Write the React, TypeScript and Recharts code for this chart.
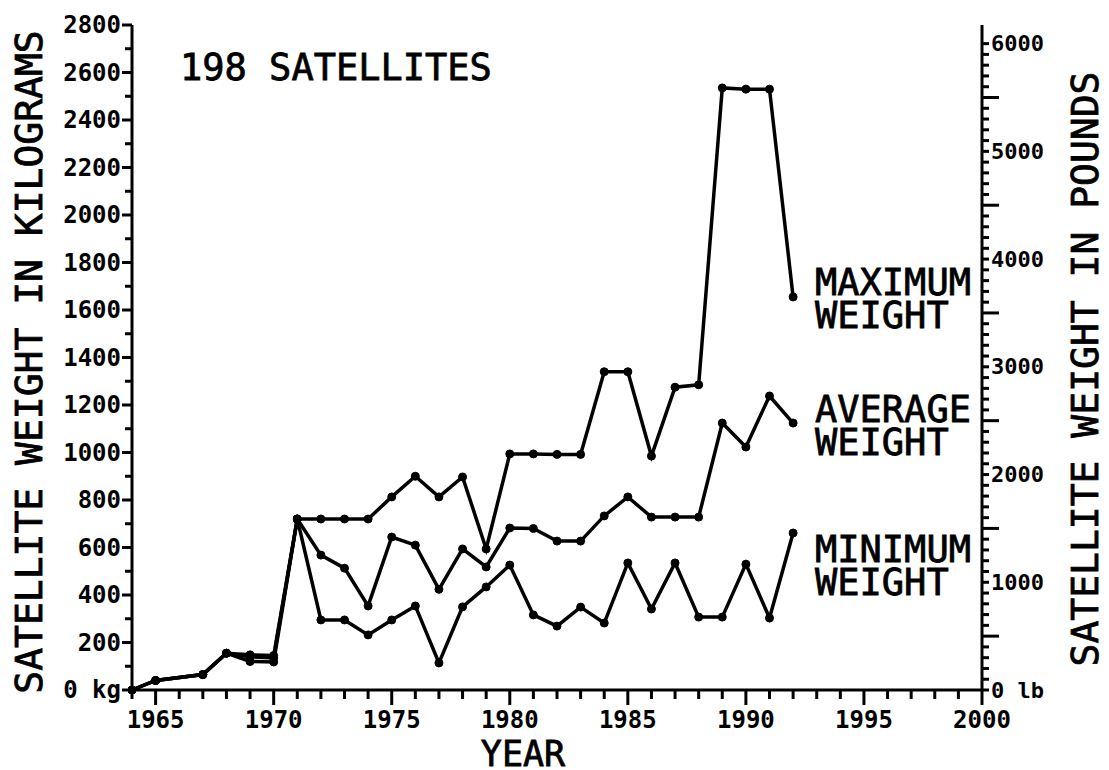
import { Line, LineChart, XAxis, YAxis } from "recharts";

const FONT = '"DejaVu Sans Mono", monospace';
const KG_TO_LB = 2.20462;

const YEARS = [
  1964, 1965, 1967, 1968, 1969, 1970, 1971, 1972, 1973, 1974, 1975, 1976, 1977, 1978,
  1979, 1980, 1981, 1982, 1983, 1984, 1985, 1986, 1987, 1988, 1989, 1990, 1991, 1992,
];
const MAX_WEIGHT = [
  0, 40, 65, 155, 148, 145, 720, 720, 720, 720, 813, 900, 813, 897,
  594, 994, 994, 992, 992, 1340, 1340, 985, 1275, 1285, 2535, 2530, 2530, 1655,
];
const AVG_WEIGHT = [
  0, 40, 65, 155, 140, 135, 720, 568, 513, 354, 644, 610, 424, 594,
  518, 682, 680, 627, 627, 733, 813, 728, 728, 728, 1124, 1023, 1238, 1124,
];
const MIN_WEIGHT = [
  0, 40, 65, 155, 120, 118, 720, 295, 295, 232, 295, 354, 114, 350,
  434, 526, 316, 269, 349, 282, 535, 341, 535, 307, 307, 530, 303, 661,
];

const YEAR_TICKS = Array.from({ length: 37 }, (_, i) => 1964 + i);
const KG_TICKS = Array.from({ length: 29 }, (_, i) => i * 100);
const LB_TICKS = Array.from({ length: 61 }, (_, i) => i * 100);

const rows = YEARS.map((year, i) => ({
  year,
  max: MAX_WEIGHT[i],
  avg: AVG_WEIGHT[i],
  min: MIN_WEIGHT[i],
}));

const tickText = { fontFamily: FONT, fontSize: 24, fontWeight: 700, fill: "#000" };
const labelText = { fontFamily: FONT, fontSize: 37, fill: "#000", stroke: "#000", strokeWidth: 0.8 };

function YearTick({ x, y, payload }: any) {
  const v = payload.value;
  const major = v % 5 === 0 && v !== 1964;
  return (
    <g>
      <line x1={x} x2={x} y1={y} y2={y + (major ? 15 : 9)} stroke="#000" strokeWidth={3} />
      {major && (
        <text x={x} y={y + 30} textAnchor="middle" dominantBaseline="central" {...tickText}>
          {v}
        </text>
      )}
    </g>
  );
}

function KgTick({ x, y, payload }: any) {
  const v = payload.value;
  const major = v % 200 === 0;
  return (
    <g>
      <line x1={x} x2={x - (major ? 10 : 7)} y1={y} y2={y} stroke="#000" strokeWidth={3} />
      {major && (
        <text x={x - 11} y={y} textAnchor="end" dominantBaseline="central" {...tickText}>
          {v === 0 ? "0 kg" : v}
        </text>
      )}
    </g>
  );
}

function LbTick({ x, y, payload }: any) {
  const v = payload.value;
  const major = v % 1000 === 0;
  const half = !major && v % 500 === 0;
  return (
    <g>
      <line x1={x} x2={x + (half ? 17 : 7)} y1={y} y2={y} stroke="#000" strokeWidth={3} />
      {major && (
        <text x={x + 9} y={y} textAnchor="start" dominantBaseline="central" {...tickText} fontSize={22}>
          {v === 0 ? "0 lb" : v}
        </text>
      )}
    </g>
  );
}

function TwoLine({ x, y, lines }: { x: number; y: number; lines: string[] }) {
  return (
    <text x={x} y={y} {...labelText}>
      {lines.map((s, i) => (
        <tspan key={s + i} x={x} dy={i === 0 ? 0 : 33}>
          {s}
        </tspan>
      ))}
    </text>
  );
}

const dotStyle = { r: 4, fill: "#000", stroke: "#000", strokeWidth: 1 };

export default function App() {
  return (
    <div style={{ position: "absolute", left: 0, top: 0, width: 1109, height: 770, background: "#fff" }}>
      <LineChart
        width={1109}
        height={770}
        data={rows}
        margin={{ top: 25, right: 0, bottom: 0, left: 0 }}
        style={{ fontFamily: FONT }}
      >
        <XAxis
          dataKey="year"
          type="number"
          domain={[1964, 2000]}
          ticks={YEAR_TICKS}
          interval={0}
          tickSize={0}
          tickMargin={0}
          height={80}
          axisLine={{ stroke: "#000", strokeWidth: 3 }}
          tick={<YearTick />}
        />
        <YAxis
          yAxisId="kg"
          type="number"
          domain={[0, 2800]}
          ticks={KG_TICKS}
          interval={0}
          tickSize={0}
          tickMargin={0}
          width={132}
          axisLine={{ stroke: "#000", strokeWidth: 3 }}
          tick={<KgTick />}
        />
        <YAxis
          yAxisId="lb"
          orientation="right"
          type="number"
          domain={[0, 2800 * KG_TO_LB]}
          allowDataOverflow
          ticks={LB_TICKS}
          interval={0}
          tickSize={0}
          tickMargin={0}
          width={127}
          axisLine={{ stroke: "#000", strokeWidth: 3 }}
          tick={<LbTick />}
        />
        <Line yAxisId="kg" type="linear" dataKey="min" stroke="#000" strokeWidth={3.5} dot={dotStyle} isAnimationActive={false} />
        <Line yAxisId="kg" type="linear" dataKey="avg" stroke="#000" strokeWidth={3.5} dot={dotStyle} isAnimationActive={false} />
        <Line yAxisId="kg" type="linear" dataKey="max" stroke="#000" strokeWidth={3.5} dot={dotStyle} isAnimationActive={false} />
      </LineChart>
      <svg width={1109} height={770} style={{ position: "absolute", left: 0, top: 0, pointerEvents: "none" }}>
        <text x={180} y={80} {...labelText}>198 SATELLITES</text>
        <TwoLine x={815} y={295} lines={["MAXIMUM", "WEIGHT"]} />
        <TwoLine x={815} y={422} lines={["AVERAGE", "WEIGHT"]} />
        <TwoLine x={815} y={562} lines={["MINIMUM", "WEIGHT"]} />
        <text x={523} y={766} textAnchor="middle" {...labelText} fontSize={35}>YEAR</text>
        <text transform="translate(42, 362) rotate(-90)" textAnchor="middle" {...labelText} fontSize={38}>
          SATELLITE WEIGHT IN KILOGRAMS
        </text>
        <text transform="translate(1098, 369) rotate(-90)" textAnchor="middle" {...labelText} fontSize={38}>
          SATELLITE WEIGHT IN POUNDS
        </text>
      </svg>
    </div>
  );
}
